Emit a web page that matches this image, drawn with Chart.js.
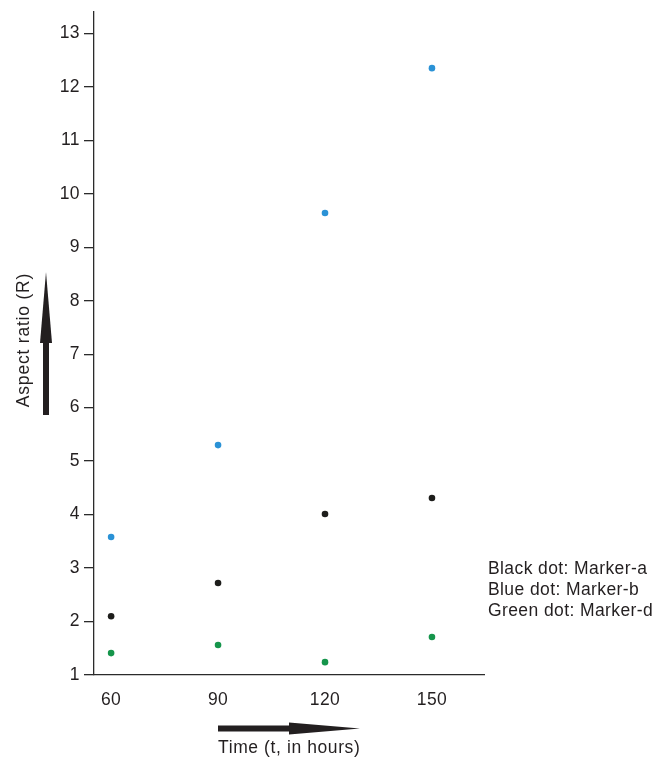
<!DOCTYPE html>
<html>
<head>
<meta charset="utf-8">
<script src="https://cdn.jsdelivr.net/npm/chart.js@4/dist/chart.umd.min.js"></script>
<style>
  html, body { margin: 0; padding: 0; background: #fff; }
  #wrap { position: relative; width: 657px; height: 759px; }
</style>
</head>
<body>
<div id="wrap"><canvas id="myChart" width="657" height="759"></canvas></div>
<script>
// data
var times = [60, 90, 120, 150];
var markerA = [2.10, 2.72, 4.01, 4.31];   // black
var markerB = [3.58, 5.30, 9.64, 12.35];  // blue
var markerD = [1.41, 1.56, 1.24, 1.71];   // green
var yTicks = [1,2,3,4,5,6,7,8,9,10,11,12,13];
var legendLines = ['Black dot: Marker-a', 'Blue dot: Marker-b', 'Green dot: Marker-d'];

var FONT = '"Liberation Sans", Arial, Helvetica, sans-serif';
var INK = '#231f20';

function pts(ys){
	return times.map(function(t, i){ return {x: t, y: ys[i]} });
}

var extras = {
	id: 'extras',
	beforeDraw: function(chart){
		// the printed labels are a bit loosely tracked
		chart.ctx.letterSpacing = '0.4px';
	},
	afterDraw: function(chart){
		var c = chart.ctx;
		c.save();
		c.fillStyle = INK;
		// y arrow
		c.fillRect(43, 341, 6, 74);
		c.beginPath();
		c.moveTo(40, 343); c.lineTo(46, 272); c.lineTo(52, 343); c.closePath();
		c.fill();
		// x arrow
		c.fillRect(218, 725.5, 73, 6);
		c.beginPath();
		c.moveTo(289, 722.5); c.lineTo(360, 728.5); c.lineTo(289, 734.5); c.closePath();
		c.fill();
		// axis titles
		c.font = '17.5px ' + FONT;
		c.letterSpacing = '0.6px';
		c.textBaseline = 'middle';
		c.textAlign = 'left';
		c.fillText('Time (t, in hours)', 218, 748);
		c.save();
		c.translate(24, 340);
		c.rotate(-Math.PI / 2);
		c.textAlign = 'center';
		c.letterSpacing = '0.8px';
		c.fillText('Aspect ratio (R)', 0, 0);
		c.restore();
		// legend text
		c.textAlign = 'left';
		c.letterSpacing = '0.4px';
		legendLines.forEach(function(s, i){
			c.fillText(s, 488, 569 + i * 21);
		});
		c.restore();
		c.letterSpacing = '0px';
	}
};

new Chart(document.getElementById('myChart'), {
	type: 'scatter',
	data: {
		datasets: [{
			label: 'Marker-a',
			data: pts(markerA),
			backgroundColor: '#1d1d1b',
			borderWidth: 0,
			pointRadius: 3.3
		},{
			label: 'Marker-b',
			data: pts(markerB),
			backgroundColor: '#2a92d6',
			borderWidth: 0,
			pointRadius: 3.3
		},{
			label: 'Marker-d',
			data: pts(markerD),
			backgroundColor: '#15954b',
			borderWidth: 0,
			pointRadius: 3.3
		}]
	},
	options: {
		responsive: false,
		animation: false,
		layout: { padding: { left: 0, right: 173, top: 12, bottom: 0 } },
		plugins: {
			legend: { display: false },
			tooltip: { enabled: false }
		},
		scales: {
			x: {
				type: 'linear',
				min: 55.2,
				max: 164.6,
				afterBuildTicks: function(s){ s.ticks = times.map(function(v){ return {value: v} }) },
				afterFit: function(s){ s.height = 84; s.paddingLeft = 0; s.paddingRight = 0 },
				grid: { display: false, drawTicks: false },
				border: { display: true, color: '#2b2b2b', width: 1.3 },
				ticks: { color: INK, font: { family: FONT, size: 17.5 }, padding: 15, maxRotation: 0 }
			},
			y: {
				type: 'linear',
				min: 1,
				max: 13.4,
				afterBuildTicks: function(s){ s.ticks = yTicks.map(function(v){ return {value: v} }) },
				afterFit: function(s){ s.width = 94; s.paddingTop = 0; s.paddingBottom = 0 },
				grid: { display: true, drawOnChartArea: false, drawTicks: true, tickLength: 10, color: '#2b2b2b', lineWidth: 1.3 },
				border: { display: true, color: '#2b2b2b', width: 1.3 },
				ticks: { color: INK, font: { family: FONT, size: 17.5 }, padding: 4 }
			}
		}
	},
	plugins: [extras]
});
</script>
</body>
</html>
